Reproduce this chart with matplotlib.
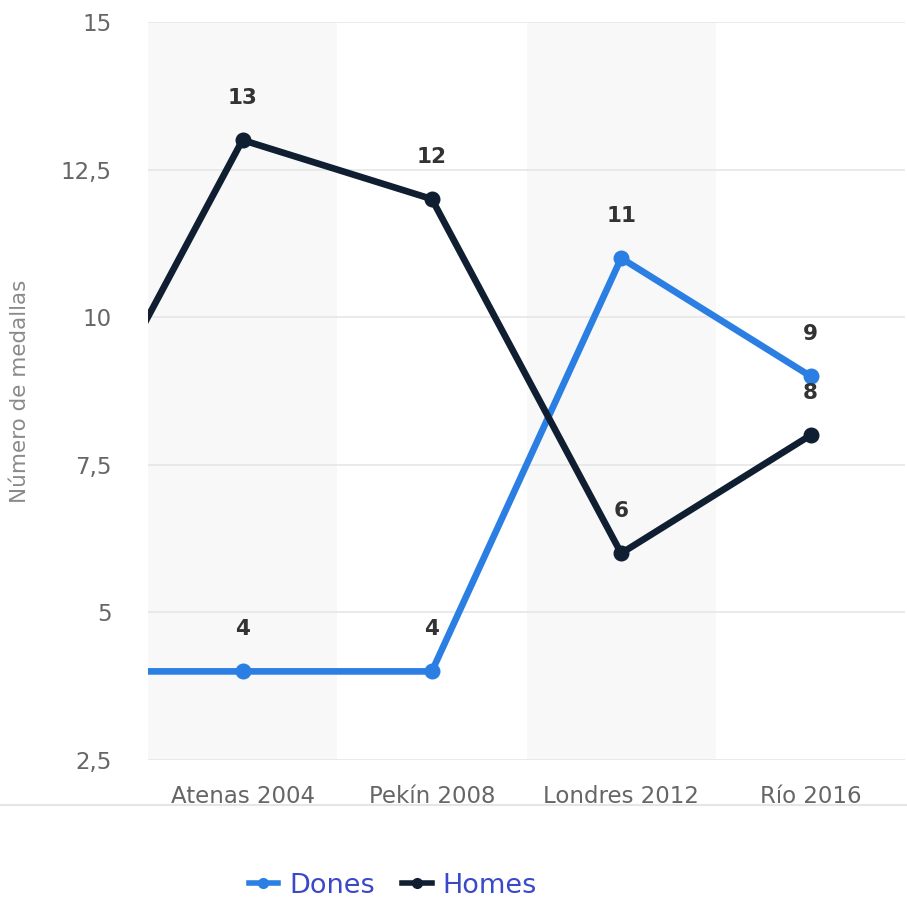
import matplotlib.pyplot as plt
from matplotlib.lines import Line2D

categories = ["Atenas 2004", "Pekín 2008", "Londres 2012", "Río 2016"]
dones = [4, 4, 11, 9]
homes = [13, 12, 6, 8]
# previous edition, partly visible at the left edge (scrolled out of view)
dones_prev = 4
homes_prev = 7

blue = "#2b7fe3"
navy = "#0f1e30"

fig = plt.figure(figsize=(9.07, 9.0), dpi=100)
ax = fig.add_axes([0.163, 0.1556, 0.835, 0.82])

x = list(range(len(categories)))
xs = [-1] + x

# alternating column bands
for i in x:
    if i % 2 == 0:
        ax.axvspan(i - 0.5, i + 0.5, color="#f8f8f8", zorder=0, lw=0)

ax.set_ylim(2.5, 15)
ax.set_xlim(-0.5, 3.5)
yticks = [2.5, 5, 7.5, 10, 12.5, 15]
ax.set_yticks(yticks)
ax.set_yticklabels([str(t).replace(".", ",").replace(",0", "") for t in yticks])
ax.set_xticks(x)
ax.set_xticklabels(categories)
ax.grid(axis="y", color="#e6e6e6", lw=1.2)
ax.set_axisbelow(True)
for s in ax.spines.values():
    s.set_visible(False)
ax.tick_params(length=0, colors="#666666", labelsize=16.5)
ax.tick_params(axis="y", pad=26)
ax.tick_params(axis="x", pad=18)
ax.set_ylabel("Número de medallas", color="#8a8a8a", fontsize=15.5, labelpad=22)

ax.plot(xs, [dones_prev] + dones, color=blue, lw=4.8, marker="o", ms=10.5,
        markevery=list(range(1, len(xs))), zorder=3, solid_joinstyle="round")
ax.plot(xs, [homes_prev] + homes, color=navy, lw=4.8, marker="o", ms=10.5,
        markevery=list(range(1, len(xs))), zorder=4, solid_joinstyle="round")

for xi, v in zip(x, dones):
    ax.annotate(str(v), (xi, v), xytext=(0, 23), textcoords="offset points",
                ha="center", va="bottom", fontsize=15.5, fontweight="bold", color="#333333")
for xi, v in zip(x, homes):
    ax.annotate(str(v), (xi, v), xytext=(0, 23), textcoords="offset points",
                ha="center", va="bottom", fontsize=15.5, fontweight="bold", color="#333333")

# thin separator line under the axis labels
fig.add_artist(Line2D([0, 1], [1 - 805 / 900] * 2, color="#e6e6e6", lw=1.5))

handles = [Line2D([], [], color=blue, lw=4, marker="o", ms=7),
           Line2D([], [], color=navy, lw=4, marker="o", ms=7)]
leg = fig.legend(handles, ["Dones", "Homes"], loc="center", bbox_to_anchor=(0.433, 0.016),
                 ncol=2, frameon=False, fontsize=19.5, handlelength=1.1, handletextpad=0.4,
                 columnspacing=1.0)
for t in leg.get_texts():
    t.set_color("#3b48c8")

fig.savefig("out.png", dpi=100)
